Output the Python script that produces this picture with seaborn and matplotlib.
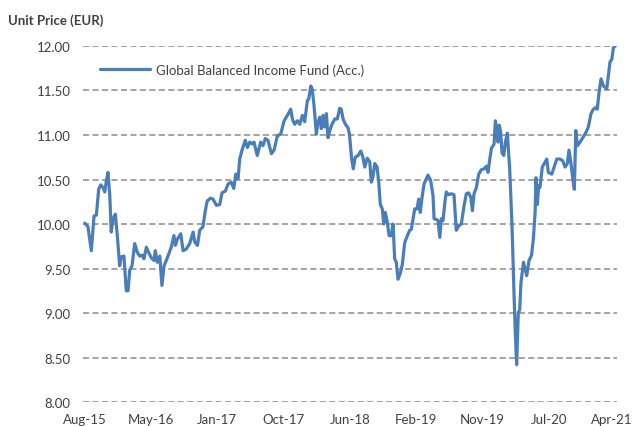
"""
Unit price chart: Global Balanced Income Fund (Acc.)
"""

import matplotlib
matplotlib.use("Agg")
import matplotlib.pyplot as plt
import matplotlib.transforms as mtransforms
import seaborn as sns
import pandas as pd
from matplotlib.ticker import FormatStrFormatter

# Data (weeks since launch, unit price in EUR)
weeks = [
    0.0, 1.8, 3.7, 5.2, 6.5, 7.8, 8.9, 10.2, 11.2, 12.1, 13.0, 14.0, 14.8, 15.8,
    17.1, 18.2, 19.5, 20.4, 21.9, 23.2, 24.2, 25.1, 26.4, 27.9, 29.4, 30.7, 32.0,
    33.1, 34.4, 35.7, 37.2, 38.7, 39.4, 40.5, 41.9, 43.1, 44.3, 46.1, 48.3, 49.8,
    50.6, 51.7, 53.6, 54.9, 56.7, 58.6, 60.5, 61.4, 62.9, 64.2, 66.0, 67.3, 68.4,
    70.3, 71.6, 73.5, 75.4, 76.6, 78.5, 80.0, 81.8, 83.2, 84.3, 85.6, 86.5, 87.8,
    89.6, 90.8, 92.1, 93.4, 94.5, 95.2, 96.3, 98.2, 99.5, 100.8, 102.3, 104.2,
    105.7, 107.5, 109.4, 111.3, 113.1, 115.0, 115.9, 117.2, 118.7, 120.0, 121.5,
    122.8, 124.3, 125.0, 126.2, 127.0, 128.0, 129.3, 130.2, 131.2, 132.1, 133.0,
    134.0, 134.9, 135.8, 136.8, 138.0, 139.6, 141.0, 142.3, 143.2, 144.2, 145.5,
    147.0, 147.8, 149.0, 149.9, 151.0, 152.6, 154.1, 155.3, 156.3, 157.7, 159.1,
    160.0, 160.9, 161.9, 163.2, 164.1, 165.0, 166.1, 166.9, 167.8, 168.9, 169.9,
    171.1, 172.1, 173.0, 173.9, 174.9, 176.2, 177.3, 178.6, 180.1, 181.4, 182.3,
    183.3, 184.2, 185.5, 186.4, 187.3, 188.3, 189.4, 190.7, 191.6, 193.1, 194.4,
    195.0, 196.3, 197.2, 198.2, 199.1, 200.0, 201.0, 201.8, 203.2, 204.6, 206.1,
    207.4, 208.8, 210.2, 211.7, 213.0, 214.3, 215.5, 216.4, 217.3, 218.6, 219.9,
    221.4, 222.9, 224.2, 225.1, 226.1, 227.0, 228.5, 229.2, 230.0, 230.7, 231.4,
    232.2, 232.9, 233.9, 234.8, 235.9, 237.2, 238.5, 239.6, 240.4, 241.1, 242.0,
    242.8, 243.5, 244.9, 245.9, 246.7, 248.0, 249.4, 250.4, 251.4, 251.9, 252.6,
    253.4, 254.1, 255.4, 256.5, 257.9, 258.8, 260.7, 262.0, 263.5, 265.3, 266.8,
    268.1, 269.4, 270.3, 271.3, 272.4, 273.3, 274.1, 275.0, 276.5, 278.0, 279.8,
    281.1, 282.6, 283.9, 285.4, 286.1, 287.1, 288.2, 289.5, 291.4, 292.3, 293.2,
    294.2, 295.1, 296.0,
]
prices = [
    10.01, 9.97, 9.70, 10.09, 10.10, 10.39, 10.44, 10.41, 10.36, 10.49, 10.58, 10.32, 9.91, 10.06,
    10.11, 9.87, 9.53, 9.63, 9.64, 9.25, 9.25, 9.48, 9.53, 9.78, 9.68, 9.64, 9.65,
    9.61, 9.74, 9.68, 9.62, 9.59, 9.70, 9.57, 9.64, 9.31, 9.53, 9.62, 9.74, 9.87,
    9.76, 9.83, 9.89, 9.70, 9.72, 9.78, 9.91, 9.80, 9.76, 9.93, 9.97, 10.15, 10.26,
    10.29, 10.28, 10.21, 10.22, 10.35, 10.37, 10.45, 10.47, 10.40, 10.56, 10.51, 10.73, 10.83,
    10.94, 10.86, 10.92, 10.90, 10.92, 10.86, 10.77, 10.92, 10.88, 10.96, 10.94, 10.79,
    10.83, 10.99, 11.01, 11.16, 11.22, 11.29, 11.18, 11.12, 11.16, 11.12, 11.22,
    11.15, 11.39, 11.40, 11.55, 11.51, 11.33, 11.01, 11.14, 11.20, 11.07, 11.22,
    11.09, 11.24, 10.97, 11.05, 11.12, 11.18, 11.18, 11.30, 11.29, 11.18, 11.12,
    11.08, 11.00, 10.73, 10.62, 10.75, 10.77, 10.82, 10.75, 10.64, 10.74, 10.70,
    10.47, 10.53, 10.68, 10.64, 10.47, 10.22, 10.17, 10.00, 10.13, 10.02, 9.87,
    9.87, 10.00, 9.61, 9.57, 9.38, 9.45, 9.55, 9.79, 9.87, 9.93, 9.94,
    10.06, 10.17, 10.17, 10.28, 10.13, 10.30, 10.45, 10.51, 10.55, 10.49, 10.32,
    10.06, 10.05, 10.04, 9.85, 10.06, 10.04, 10.24, 10.36, 10.33, 10.34, 10.33,
    9.93, 9.98, 10.00, 10.20, 10.34, 10.35, 10.30, 10.15, 10.34, 10.41, 10.56,
    10.61, 10.62, 10.65, 10.58, 10.73, 10.85, 10.90, 11.16, 11.07, 10.92, 11.11,
    11.03, 10.80, 10.77, 10.92, 11.02, 10.62, 9.98, 9.23, 8.74, 8.42, 9.00,
    9.04, 9.34, 9.57, 9.49, 9.42, 9.59, 9.65, 9.83, 10.13, 10.52, 10.22,
    10.43, 10.41, 10.64, 10.68, 10.73, 10.58, 10.56, 10.64, 10.73, 10.73, 10.71,
    10.64, 10.68, 10.83, 10.70, 10.51, 10.39, 11.05, 10.88, 10.92, 10.97, 11.03,
    11.09, 11.24, 11.29, 11.31, 11.29, 11.48, 11.63, 11.55, 11.52, 11.67, 11.82,
    11.85, 11.98, 12.00,
]

tick_weeks = [0, 37, 74, 111, 148, 185, 222, 259, 296]
tick_labels = ["Aug-15", "May-16", "Jan-17", "Oct-17", "Jun-18",
               "Feb-19", "Nov-19", "Jul-20", "Apr-21"]
y_ticks = [8.0, 8.5, 9.0, 9.5, 10.0, 10.5, 11.0, 11.5, 12.0]

SERIES = "Global Balanced Income Fund (Acc.)"
LINE_COLOR = "#4a7ebb"
TEXT_COLOR = "#404040"

sns.set_style("white")
plt.rcParams['font.family'] = ['Lato', 'DejaVu Sans']

df = pd.DataFrame({"week": weeks, "price": prices})

fig = plt.figure(figsize=(6.33, 4.27), dpi=100)
ax = fig.add_axes([0.131, 0.056, 0.844, 0.834])

sns.lineplot(data=df, x="week", y="price", ax=ax, color=LINE_COLOR,
             linewidth=2.3, label=SERIES, estimator=None, sort=False)

ax.set_xlim(-1.0, 297.2)
ax.set_ylim(8.0, 12.0)
ax.set_yticks(y_ticks)
ax.yaxis.set_major_formatter(FormatStrFormatter('%.2f'))
ax.set_xticks(tick_weeks)
ax.set_xticklabels(tick_labels)
ax.set_xlabel("")
ax.set_ylabel("")

for y in y_ticks:
    ax.axhline(y, color="#8c8c8c", linewidth=1.1, linestyle=(0, (4, 2.2)), zorder=0)

for s in ax.spines.values():
    s.set_visible(False)
ax.tick_params(axis="both", length=0, labelsize=9.5, colors=TEXT_COLOR)
ax.tick_params(axis="y", pad=9)
ax.tick_params(axis="x", pad=7.5)

# keep the last date label inside the canvas
last = ax.get_xticklabels()[-1]
last.set_transform(last.get_transform() +
                   mtransforms.ScaledTranslation(-3 / 100, 0, fig.dpi_scale_trans))

leg = ax.legend(loc="upper left", bbox_to_anchor=(0.01, 0.985), frameon=False,
                handlelength=3.8, fontsize=9.5, handletextpad=0.45)
for t in leg.get_texts():
    t.set_color(TEXT_COLOR)

fig.text(0.013, 0.952, "Unit Price (EUR)", fontsize=9.5, fontweight="bold",
         color=TEXT_COLOR, ha="left", va="center")

fig.savefig("out.png", dpi=100)
plt.close(fig)
